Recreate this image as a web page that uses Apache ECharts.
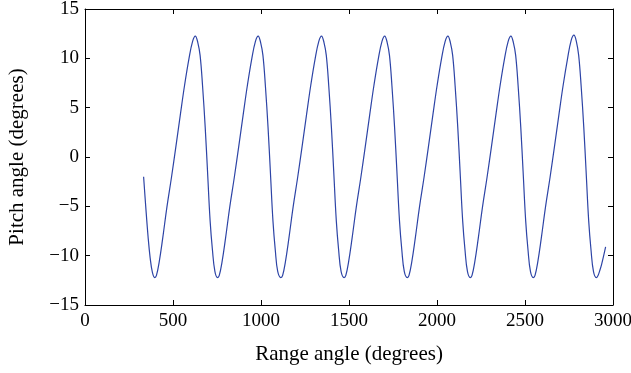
<!DOCTYPE html>
<html>
<head>
<meta charset="utf-8">
<script src="https://cdn.jsdelivr.net/npm/echarts@6/dist/echarts.min.js"></script>
<style>
html,body{margin:0;padding:0;background:#fff;}
#chart{width:631px;height:373px;}
</style>
</head>
<body>
<div id="chart"></div>
<script>
const xTicks = [0, 500, 1000, 1500, 2000, 2500, 3000];
const yTicks = [-15, -10, -5, 0, 5, 10, 15];
const xLabel = 'Range angle (degrees)';
const yLabel = 'Pitch angle (degrees)';

const rangeAngle = [
  333, 345, 358, 370, 383,
  396, 406, 421, 441, 466, 491, 516, 541, 566, 591, 611, 627, 641, 654, 668, 683, 696, 711, 724, 738,
  753, 763, 778, 798, 823, 848, 873, 898, 923, 948, 968, 984, 998, 1011, 1025, 1040, 1053, 1068, 1081, 1095,
  1113, 1123, 1138, 1158, 1183, 1208, 1233, 1258, 1283, 1308, 1328, 1344, 1358, 1371, 1385, 1400, 1413, 1428, 1441, 1455,
  1472, 1482, 1497, 1517, 1542, 1567, 1592, 1617, 1642, 1667, 1687, 1703, 1717, 1730, 1744, 1759, 1772, 1787, 1800, 1814,
  1831, 1841, 1856, 1876, 1901, 1926, 1951, 1976, 2001, 2026, 2046, 2062, 2076, 2089, 2103, 2118, 2131, 2146, 2159, 2173,
  2189, 2199, 2214, 2234, 2259, 2284, 2309, 2334, 2359, 2384, 2404, 2420, 2434, 2447, 2461, 2476, 2489, 2504, 2517, 2531,
  2547, 2557, 2572, 2592, 2617, 2642, 2667, 2692, 2717, 2742, 2762, 2778, 2792, 2805, 2819, 2834, 2847, 2862, 2875, 2889,
  2905, 2915, 2925, 2935, 2947, 2958
];
const pitchAngle = [
  -2.0, -5.0, -8.0, -10.2, -11.7,
  -12.22, -12.0, -10.7, -8.3, -5.0, -2.1, 1.0, 4.2, 7.3, 10.0, 11.7, 12.26, 11.6, 10.3, 7.2, 3.0, -1.4, -6.5, -9.4, -11.6,
  -12.22, -12.0, -10.7, -8.3, -5.0, -2.1, 1.0, 4.2, 7.3, 10.0, 11.7, 12.26, 11.6, 10.3, 7.2, 3.0, -1.4, -6.5, -9.4, -11.6,
  -12.22, -12.0, -10.7, -8.3, -5.0, -2.1, 1.0, 4.2, 7.3, 10.0, 11.7, 12.26, 11.6, 10.3, 7.2, 3.0, -1.4, -6.5, -9.4, -11.6,
  -12.22, -12.0, -10.7, -8.3, -5.0, -2.1, 1.0, 4.2, 7.3, 10.0, 11.7, 12.26, 11.6, 10.3, 7.2, 3.0, -1.4, -6.5, -9.4, -11.6,
  -12.22, -12.0, -10.7, -8.3, -5.0, -2.1, 1.0, 4.2, 7.3, 10.0, 11.7, 12.26, 11.6, 10.3, 7.2, 3.0, -1.4, -6.5, -9.4, -11.6,
  -12.22, -12.0, -10.7, -8.3, -5.0, -2.1, 1.0, 4.2, 7.3, 10.0, 11.7, 12.26, 11.6, 10.3, 7.2, 3.0, -1.4, -6.5, -9.4, -11.6,
  -12.22, -12.0, -10.7, -8.3, -5.0, -2.1, 1.0, 4.2, 7.3, 10.0, 11.8, 12.36, 11.7, 10.3, 7.2, 3.0, -1.4, -6.5, -9.4, -11.6,
  -12.22, -12.0, -11.5, -10.9, -10.0, -9.1
];

const font = 'Liberation Serif';
const fmt = v => (v < 0 ? '\u2212' + Math.abs(v) : String(v));
const data = rangeAngle.map((x, i) => [x, pitchAngle[i]]);

const chart = echarts.init(document.getElementById('chart'), null, {renderer: 'canvas'});
const axisCommon = {
  axisLine: {show: true, onZero: false, lineStyle: {color: '#000', width: 1}},
  axisTick: {show: true, inside: true, length: 5, lineStyle: {color: '#000', width: 1}},
  splitLine: {show: false}
};
chart.setOption({
  animation: false,
  backgroundColor: '#fff',
  grid: {left: 85, right: 18, top: 9, bottom: 68, containLabel: false, outerBoundsMode: 'none'},
  xAxis: [
    Object.assign({
      type: 'value', min: xTicks[0], max: xTicks[xTicks.length - 1], interval: 500, position: 'bottom',
      name: xLabel, nameLocation: 'middle', nameGap: 39,
      nameTextStyle: {fontFamily: font, fontSize: 21, color: '#000'},
      axisLabel: {fontFamily: font, fontSize: 19, color: '#000', margin: 7, formatter: fmt}
    }, axisCommon),
    Object.assign({
      type: 'value', min: xTicks[0], max: xTicks[xTicks.length - 1], interval: 500, position: 'top',
      axisLabel: {show: false}
    }, axisCommon)
  ],
  yAxis: [
    Object.assign({
      type: 'value', min: yTicks[0], max: yTicks[yTicks.length - 1], interval: 5, position: 'left',
      name: yLabel, nameLocation: 'middle', nameGap: 57,
      nameTextStyle: {fontFamily: font, fontSize: 21, color: '#000'},
      axisLabel: {fontFamily: font, fontSize: 19, color: '#000', margin: 6, formatter: fmt}
    }, axisCommon),
    Object.assign({
      type: 'value', min: yTicks[0], max: yTicks[yTicks.length - 1], interval: 5, position: 'right',
      axisLabel: {show: false}
    }, axisCommon)
  ],
  series: [{
    type: 'line',
    data: data,
    xAxisIndex: 0, yAxisIndex: 0,
    showSymbol: false,
    smooth: 0.4,
    lineStyle: {color: '#2d44a6', width: 1.2},
    itemStyle: {color: '#2d44a6'}
  }]
});
</script>
</body>
</html>
